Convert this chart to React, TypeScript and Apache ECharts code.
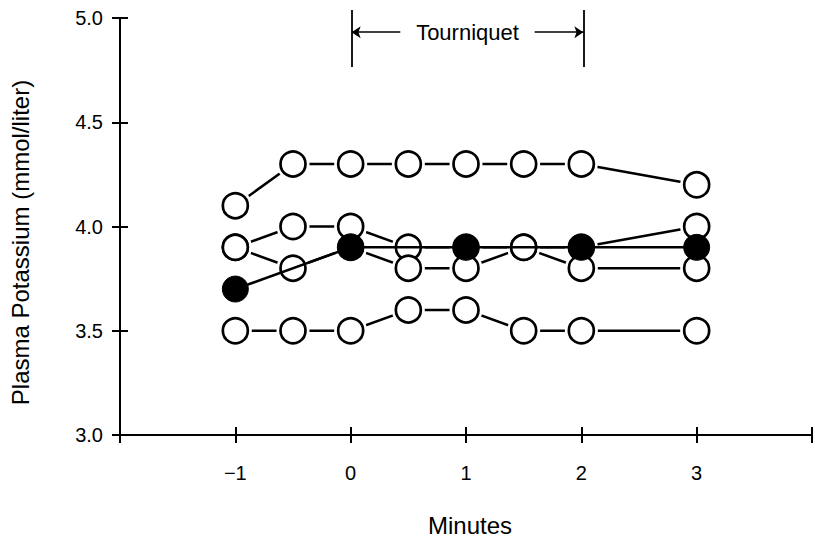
import React, { useEffect, useRef } from 'react';
import * as echarts from 'echarts';

const minutes = [-1, -0.5, 0, 0.5, 1, 1.5, 2, 3];
const seriesA = [4.1, 4.3, 4.3, 4.3, 4.3, 4.3, 4.3, 4.2];
const seriesB = [3.9, 4.0, 4.0, 3.9, 3.9, 3.9, 3.9, 4.0];
const seriesC = [3.9, 3.8, 3.9, 3.8, 3.8, 3.9, 3.8, 3.8];
const seriesD = [3.5, 3.5, 3.5, 3.6, 3.6, 3.5, 3.5, 3.5];
const filledMinutes = [-1, 0, 1, 2, 3];
const filledValues = [3.7, 3.9, 3.9, 3.9, 3.9];
const xTickLabels = ['\u22121', '0', '1', '2', '3'];
const xTickValues = [-1, 0, 1, 2, 3];
const tourniquetStart = 0;
const tourniquetEnd = 2;

const FONT = '"Liberation Sans", Arial, Helvetica, sans-serif';

export default function App() {
  const ref = useRef<HTMLDivElement>(null);
  useEffect(() => {
    if (!ref.current) return;
    const chart = echarts.init(ref.current, null, { renderer: 'svg' });
    const pair = (xs: number[], ys: number[]) => xs.map((x, i) => [x, ys[i]]);
    const openSets = [seriesA, seriesB, seriesC, seriesD];
    const openLines = openSets.map((ys, k) => ({
      name: 'open' + k,
      type: 'line',
      data: pair(minutes, ys),
      showSymbol: false,
      symbol: 'none',
      lineStyle: { color: '#000', width: 2.5 },
      z: 1,
    }));
    const allOpen = openSets.flatMap((ys) => pair(minutes, ys));
    const halo = {
      name: 'halo',
      type: 'scatter',
      data: allOpen,
      symbol: 'circle',
      symbolSize: 33,
      itemStyle: { color: '#fff', borderWidth: 0, opacity: 1 },
      z: 2,
    };
    const openMarkers = {
      name: 'openMarkers',
      type: 'scatter',
      data: allOpen,
      symbol: 'circle',
      symbolSize: 25,
      itemStyle: { color: '#fff', borderColor: '#000', borderWidth: 2.7, opacity: 1 },
      z: 3,
    };

    // main plot geometry
    const gridTop = 18;
    const gridHeight = 419;
    const yMin = 3;
    const yMax = 5;
    const unitsPerPx = (yMax - yMin) / gridHeight;
    // annotation grid sits above / over the top of the plot, same y units
    const annTop = 0;
    const annHeight = 80;
    const annMax = yMax + (gridTop - annTop) * unitsPerPx;
    const annMin = annMax - annHeight * unitsPerPx;

    const midY = 4.932;
    const xAxisBase = {
      type: 'value',
      min: -2,
      max: 4,
      interval: 1,
      position: 'bottom',
      splitLine: { show: false },
    };
    const yAxisBase = {
      type: 'value',
      min: yMin,
      max: yMax,
      interval: 0.5,
      position: 'left',
      splitLine: { show: false },
    };
    chart.setOption({
      animation: false,
      backgroundColor: '#fff',
      grid: [
        { left: 120, top: gridTop, width: 695, height: gridHeight, containLabel: false },
        { left: 120, top: annTop, width: 695, height: annHeight, containLabel: false },
      ],
      xAxis: [
        {
          ...xAxisBase,
          gridIndex: 0,
          name: 'Minutes',
          nameLocation: 'middle',
          nameGap: 78,
          nameTextStyle: { color: '#000', fontSize: 24, fontFamily: FONT, padding: [0, 0, 0, 8] },
          axisLine: { show: true, onZero: false, lineStyle: { color: '#000', width: 2 } },
          axisTick: { show: true, inside: false, length: 8, lineStyle: { color: '#000', width: 2 } },
          axisLabel: {
            color: '#000',
            fontSize: 20,
            fontFamily: FONT,
            margin: 28,
            formatter: (v: number) => {
              const i = xTickValues.indexOf(v);
              return i >= 0 ? xTickLabels[i] : '';
            },
          },
        },
        {
          ...xAxisBase,
          gridIndex: 0,
          axisLine: { show: false, onZero: false },
          axisTick: { show: true, inside: true, length: 8, lineStyle: { color: '#000', width: 2 } },
          axisLabel: { show: false },
        },
        {
          ...xAxisBase,
          gridIndex: 1,
          show: false,
        },
      ],
      yAxis: [
        {
          ...yAxisBase,
          gridIndex: 0,
          name: 'Plasma Potassium (mmol/liter)',
          nameLocation: 'middle',
          nameGap: 88,
          nameRotate: 90,
          nameTextStyle: { color: '#000', fontSize: 24, fontFamily: FONT, padding: [0, 32, 0, 0] },
          axisLine: { show: true, onZero: false, lineStyle: { color: '#000', width: 2 } },
          axisTick: { show: true, inside: false, length: 8, lineStyle: { color: '#000', width: 2 } },
          axisLabel: {
            color: '#000',
            fontSize: 20,
            fontFamily: FONT,
            margin: 17,
            formatter: (v: number) => v.toFixed(1),
          },
        },
        {
          ...yAxisBase,
          gridIndex: 0,
          axisLine: { show: false, onZero: false },
          axisTick: { show: true, inside: true, length: 8, lineStyle: { color: '#000', width: 2 } },
          axisLabel: { show: false },
        },
        {
          type: 'value',
          gridIndex: 1,
          min: annMin,
          max: annMax,
          show: false,
        },
      ],
      series: [
        ...openLines,
        halo,
        openMarkers,
        {
          name: 'Filled',
          type: 'line',
          data: pair(filledMinutes, filledValues),
          symbol: 'circle',
          symbolSize: 26,
          itemStyle: { color: '#000', borderColor: '#000', borderWidth: 1 },
          lineStyle: { color: '#000', width: 2.5 },
          z: 4,
        },
        {
          name: 'Tourniquet',
          type: 'line',
          xAxisIndex: 2,
          yAxisIndex: 2,
          data: [],
          clip: false,
          z: 5,
          markLine: {
            silent: true,
            symbol: ['none', 'none'],
            symbolSize: 9,
            label: { show: false },
            lineStyle: { color: '#000', width: 1.8, type: 'solid' },
            data: [
              [{ coord: [tourniquetStart, 5.038] }, { coord: [tourniquetStart, 4.766] }],
              [{ coord: [tourniquetEnd, 5.038] }, { coord: [tourniquetEnd, 4.766] }],
              [
                { coord: [tourniquetStart + 0.42, midY], symbol: 'none', lineStyle: { width: 1.5 } },
                { coord: [tourniquetStart, midY], symbol: 'arrow' },
              ],
              [
                { coord: [tourniquetEnd - 0.42, midY], symbol: 'none', lineStyle: { width: 1.5 } },
                { coord: [tourniquetEnd, midY], symbol: 'arrow' },
              ],
            ],
          },
          markPoint: {
            silent: true,
            symbol: 'circle',
            symbolSize: 0,
            label: {
              show: true,
              position: 'inside',
              formatter: 'Tourniquet',
              color: '#000',
              fontSize: 22,
              fontFamily: FONT,
            },
            data: [{ coord: [(tourniquetStart + tourniquetEnd) / 2, midY] }],
          },
        },
      ],
    });
    return () => chart.dispose();
  }, []);
  return (
    <div
      ref={ref}
      style={{ position: 'fixed', left: 0, top: 0, width: 815, height: 542, background: '#fff' }}
    />
  );
}
